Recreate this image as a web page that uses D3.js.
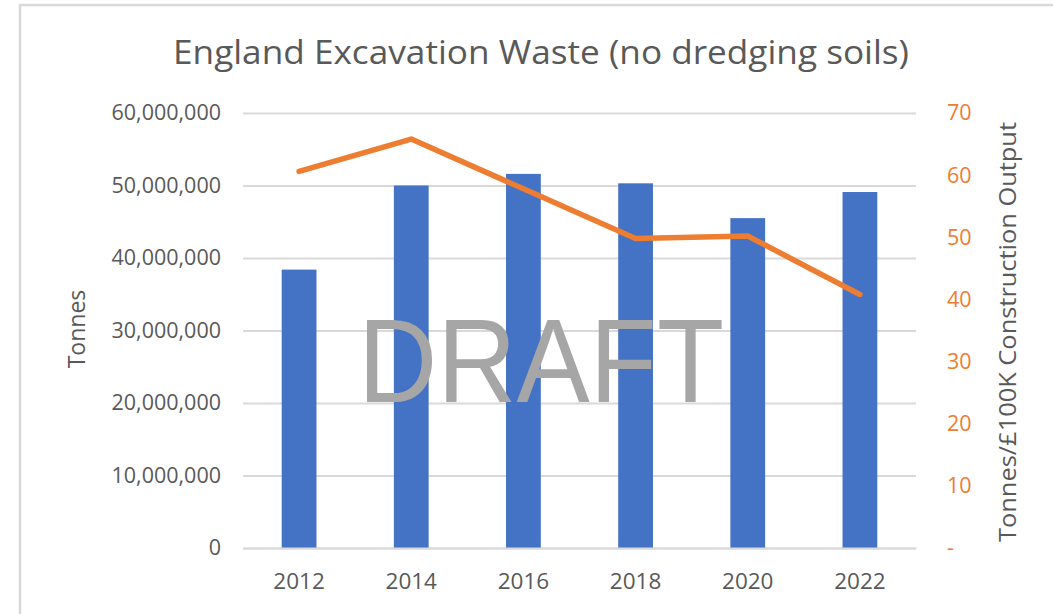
<!DOCTYPE html>
<html lang="en">
<head>
  <meta charset="UTF-8">
  <title>England Excavation Waste</title>
  <script src="https://d3js.org/d3.v7.min.js"></script>
  <style>
    body { margin: 0; background: #fff; }
    text { font-family: "Open Sans", sans-serif; }
  </style>
</head>
<body>
<div id="chart"></div>
<script>
  // values
  var years = ["2012", "2014", "2016", "2018", "2020", "2022"];
  var tonnes = [38400000, 50000000, 51600000, 50300000, 45500000, 49100000];
  var perConstruction = [60.6, 65.8, 57.8, 49.8, 50.2, 40.8];
  var leftTicks = [0, 10000000, 20000000, 30000000, 40000000, 50000000, 60000000];
  var rightTicks = [0, 10, 20, 30, 40, 50, 60, 70];

  var width = 1053, height = 614;
  var plot = {left: 243, right: 916, top: 113, bottom: 548};

  var svg = d3.select("#chart").append("svg")
          .attr("width", width)
          .attr("height", height);

  // chart frame
  svg.append("rect")
          .attr("x", 20).attr("y", 5)
          .attr("width", width + 20).attr("height", height + 20)
          .style("fill", "#fff")
          .style("stroke", "#d9d9d9")
          .style("stroke-width", 2.5);

  var xScale = d3.scaleBand().domain(years).range([plot.left, plot.right]).padding(0);
  var yLeft = d3.scaleLinear().domain([0, 60000000]).range([plot.bottom, plot.top]);
  var yRight = d3.scaleLinear().domain([0, 70]).range([plot.bottom, plot.top]);

  // gridlines
  var gridAxis = d3.axisLeft(yLeft)
          .tickValues(leftTicks)
          .tickSize(-(plot.right - plot.left))
          .tickFormat("");
  var grid = svg.append("g").attr("transform", `translate(${plot.left},0)`).call(gridAxis);
  grid.select(".domain").remove();
  grid.selectAll("line").style("stroke", "#d9d9d9").style("stroke-width", 2);

  // left axis labels
  var leftAxis = d3.axisLeft(yLeft)
          .tickValues(leftTicks)
          .tickSize(0)
          .tickPadding(22)
          .tickFormat(d3.format(","));
  var la = svg.append("g").attr("transform", `translate(${plot.left},0)`).call(leftAxis);
  la.select(".domain").remove();
  la.selectAll("text")
          .style("font-family", "Open Sans")
          .style("font-size", "21.5px")
          .style("fill", "#595959");

  // right axis labels
  var rightAxis = d3.axisRight(yRight)
          .tickValues(rightTicks)
          .tickSize(0)
          .tickPadding(31)
          .tickFormat(function(d) { return d === 0 ? "-" : d; });
  var ra = svg.append("g").attr("transform", `translate(${plot.right},0)`).call(rightAxis);
  ra.select(".domain").remove();
  ra.selectAll("text")
          .style("font-family", "Open Sans")
          .style("font-size", "21.5px")
          .style("fill", "#ed7d31");

  // bars
  var barW = xScale.bandwidth() * 0.31;
  svg.append("g").selectAll("rect")
          .data(years)
          .join("rect")
          .attr("x", function(d) { return xScale(d) + xScale.bandwidth() / 2 - barW / 2; })
          .attr("y", function(d, i) { return yLeft(tonnes[i]); })
          .attr("width", barW)
          .attr("height", function(d, i) { return plot.bottom - yLeft(tonnes[i]); })
          .style("fill", "#4472c4");

  // bottom axis
  var bottomAxis = d3.axisBottom(xScale).tickSize(0).tickPadding(25);
  var ba = svg.append("g").attr("transform", `translate(0,${plot.bottom})`).call(bottomAxis);
  ba.select(".domain").style("stroke", "#d9d9d9").style("stroke-width", 2);
  ba.selectAll("text")
          .style("font-family", "Open Sans")
          .style("font-size", "22.5px")
          .style("fill", "#595959");

  // line series
  var line = d3.line()
          .x(function(d, i) { return xScale(years[i]) + xScale.bandwidth() / 2; })
          .y(function(d) { return yRight(d); });
  svg.append("path")
          .datum(perConstruction)
          .attr("d", line)
          .style("fill", "none")
          .style("stroke", "#ed7d31")
          .style("stroke-width", 5.5)
          .style("stroke-linecap", "round")
          .style("stroke-linejoin", "round");

  // title
  svg.append("text")
          .attr("x", 541).attr("y", 64)
          .attr("text-anchor", "middle")
          .attr("textLength", 736)
          .attr("lengthAdjust", "spacingAndGlyphs")
          .style("font-family", "Open Sans")
          .style("font-size", "32px")
          .style("fill", "#595959")
          .text("England Excavation Waste (no dredging soils)");

  // axis titles
  svg.append("text")
          .attr("transform", "translate(85,329) rotate(-90)")
          .attr("text-anchor", "middle")
          .style("font-size", "23px")
          .style("fill", "#595959")
          .text("Tonnes");

  svg.append("text")
          .attr("transform", "translate(1016,332) rotate(-90)")
          .attr("text-anchor", "middle")
          .attr("textLength", 420)
          .attr("lengthAdjust", "spacingAndGlyphs")
          .style("font-size", "23px")
          .style("fill", "#595959")
          .text("Tonnes/£100K Construction Output");

  // watermark
  svg.append("text")
          .attr("x", 541).attr("y", 402)
          .attr("text-anchor", "middle")
          .attr("textLength", 366)
          .attr("lengthAdjust", "spacingAndGlyphs")
          .style("font-family", "Liberation Sans")
          .style("font-size", "118px")
          .style("fill", "#a6a6a6")
          .text("DRAFT");
</script>
</body>
</html>
